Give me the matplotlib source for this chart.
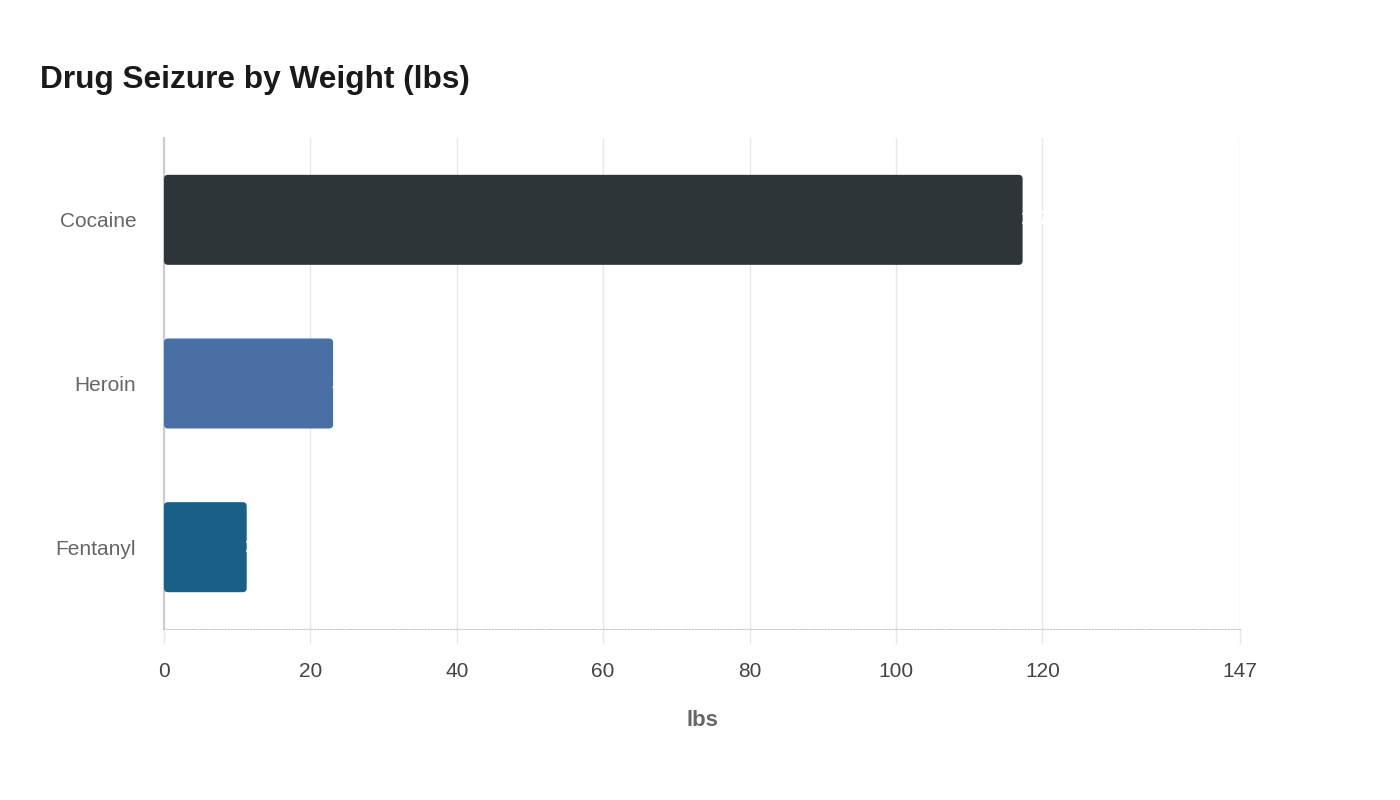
import matplotlib
matplotlib.use("Agg")
import matplotlib.pyplot as plt
from matplotlib.patches import FancyBboxPatch

categories = ["Cocaine", "Heroin", "Fentanyl"]
values = [117.3, 23.1, 11.3]
colors = ["#2e3538", "#4a6fa5", "#1a5f86"]
xticks = [0, 20, 40, 60, 80, 100, 120, 147]

plt.rcParams['font.family'] = ['Liberation Sans', 'DejaVu Sans']

fig = plt.figure(figsize=(14, 8), dpi=100)
ax = fig.add_axes([164/1400, 1 - 629/800, (1240-164)/1400, (629-138)/800])

xmax = 147
ax.set_xlim(0, xmax)
ax.set_ylim(2.5, -0.5)
bh = 0.55

px_x = (1240-164)/xmax  # pixels per x unit
px_y = (629-138)/3      # pixels per y unit
r_px = 4
rs = r_px / px_x
aspect = (r_px/px_y) / rs

bars = ax.barh(range(len(categories)), values, height=bh, color=colors, alpha=0)
for b, c in zip(bars, colors):
    x0, y0 = b.get_x(), b.get_y()
    w, h = b.get_width(), b.get_height()
    p = FancyBboxPatch((x0, y0), w, h,
                       boxstyle=f"round,pad=0,rounding_size={rs}",
                       mutation_aspect=aspect, facecolor=c, edgecolor='none', zorder=3)
    ax.add_patch(p)
    # value label (white, sits at bar end)
    ax.text(x0 + w - 0.2, y0 + h/2, f"{w:g}", color='white', fontsize=13,
            fontweight='bold', va='center', ha='left', zorder=4)

ax.set_yticks(range(len(categories)))
ax.set_yticklabels(categories, fontsize=15, color='#666666')
ax.tick_params(axis='y', length=0, pad=20)

ax.set_xticks(xticks)
ax.set_xticklabels([str(t) for t in xticks], fontsize=15, color='#444444')
ax.tick_params(axis='x', length=10.5, width=1, color='#e8e8e8', pad=13.5)

ax.grid(axis='x', color='#e8e8e8', linewidth=1, zorder=0)
ax.set_axisbelow(True)

for s in ['top', 'right']:
    ax.spines[s].set_visible(False)
ax.spines['left'].set_color('#cccccc')
ax.spines['left'].set_linewidth(1.5)
ax.spines['bottom'].set_color('#c8c8c8')
ax.spines['bottom'].set_linestyle((0, (1, 1.5)))
ax.spines['bottom'].set_linewidth(0.8)

ax.set_xlabel("lbs", fontsize=16, fontweight='bold', color='#666666', labelpad=21)

fig.text(40/1400, 1 - 80/800, "Drug Seizure by Weight (lbs)", fontsize=22.8,
         fontweight='bold', color='#1a1a1a', va='center', ha='left')

fig.savefig("out.png", dpi=100, facecolor='white')
